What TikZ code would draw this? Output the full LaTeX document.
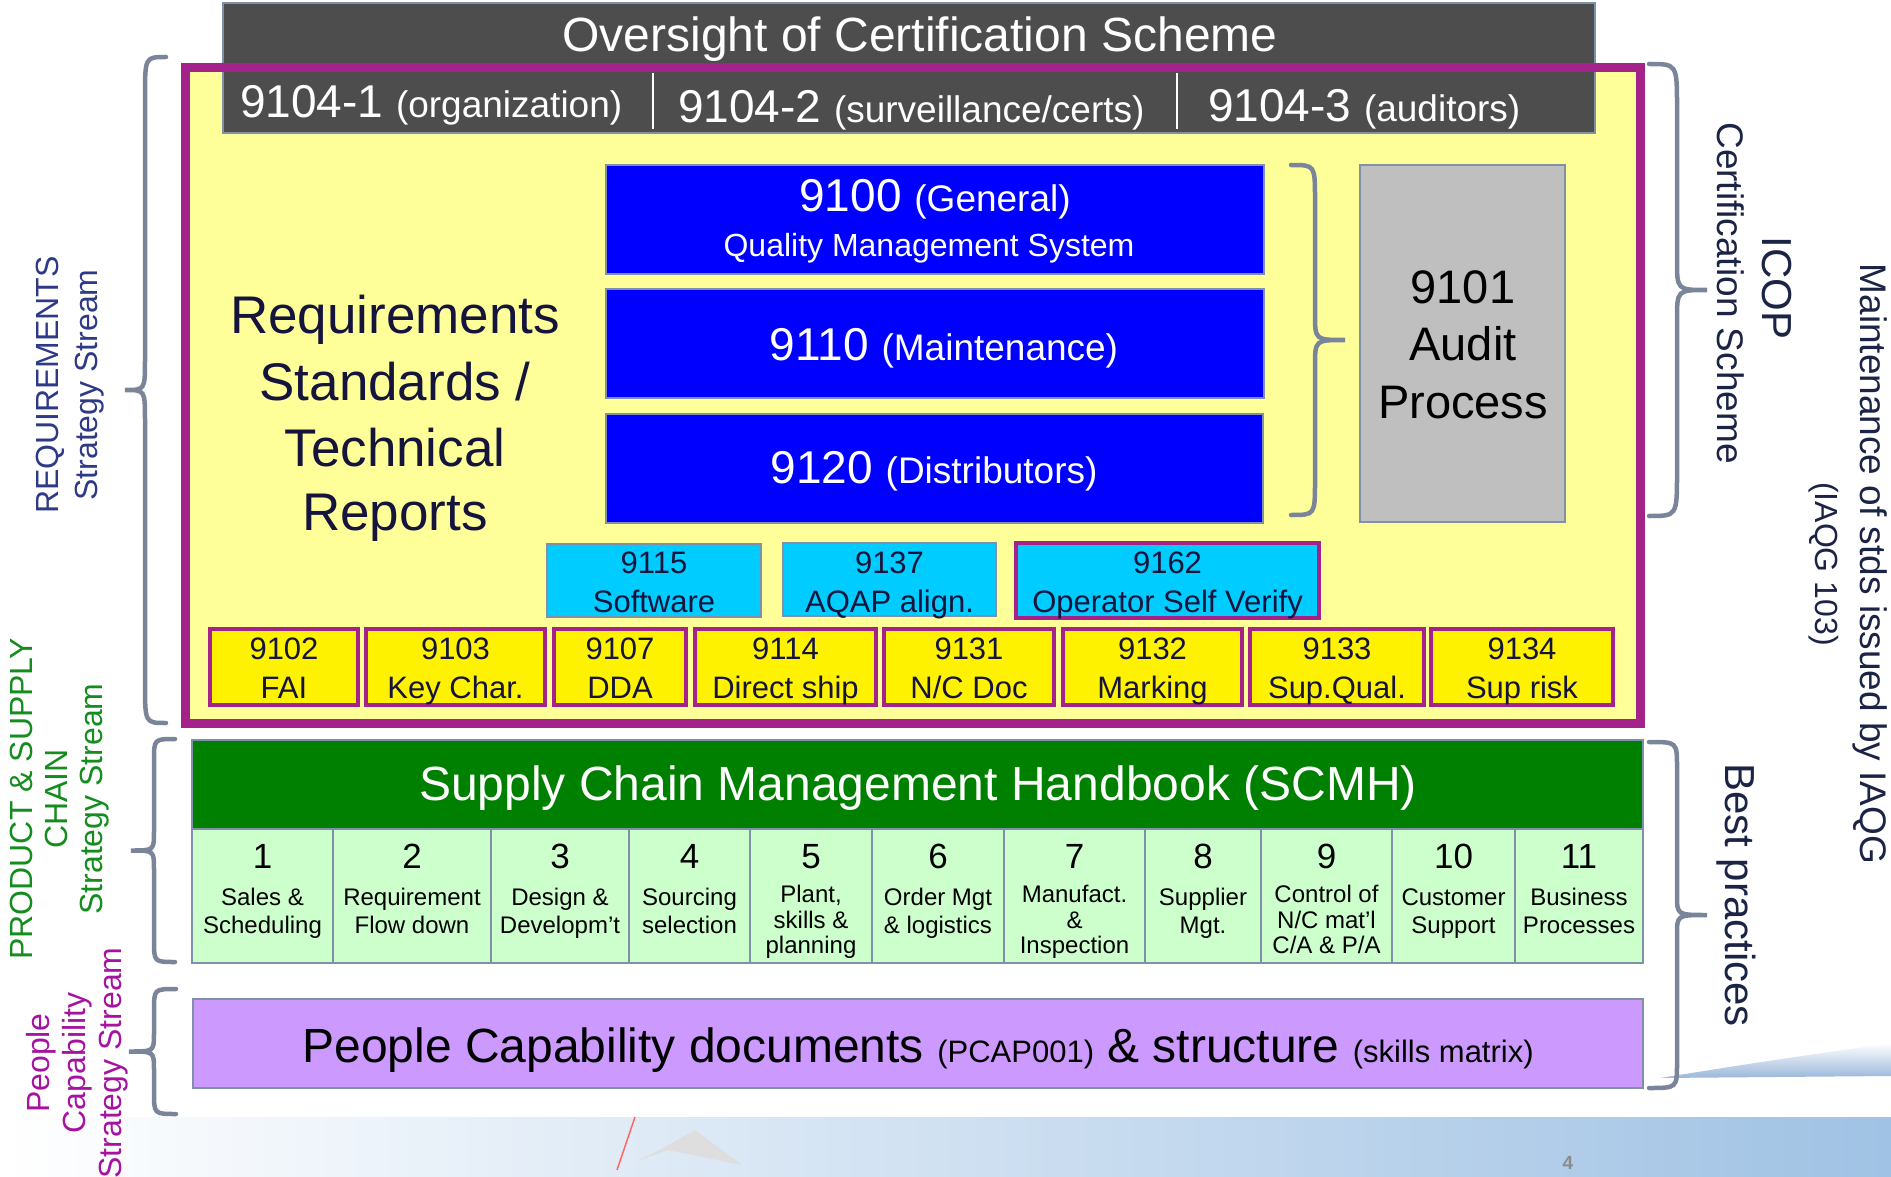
\documentclass[tikz,border=0pt]{standalone}
\usepackage{fontspec}
\setmainfont{Liberation Sans}
\definecolor{purp}{RGB}{163,35,139}
\definecolor{lyell}{RGB}{255,255,153}
\definecolor{dhead}{RGB}{77,77,77}
\definecolor{bgray}{RGB}{128,144,168}
\definecolor{navy}{RGB}{20,20,60}
\definecolor{brc}{RGB}{122,133,153}
\definecolor{reqc}{RGB}{46,58,135}
\definecolor{grnc}{RGB}{20,140,30}
\definecolor{magc}{RGB}{165,20,160}
\definecolor{rtxt}{RGB}{28,36,70}
\definecolor{cyanb}{RGB}{0,204,255}
\definecolor{scmg}{RGB}{0,128,0}
\definecolor{lgrn}{RGB}{204,255,204}
\definecolor{lav}{RGB}{204,153,255}
\definecolor{bandblue}{RGB}{160,194,228}
\definecolor{bandmid}{RGB}{226,234,245}
\definecolor{swoosh}{RGB}{130,165,210}
\newcommand\fsz[1]{\fontsize{#1}{#1}\selectfont}
% box node from corners: name, style, x1, y1, x2, y2
\newcommand\bx[6]{%
 \pgfmathsetmacro\bxW{#5-#3}\pgfmathsetmacro\bxH{#6-#4}%
 \pgfmathsetmacro\bxX{(#3+#5)/2}\pgfmathsetmacro\bxY{(#4+#6)/2}%
 \node[#2, minimum width=\bxW pt, minimum height=\bxH pt, inner sep=0pt, outer sep=0pt] (#1) at (\bxX,\bxY) {};}
% brace: xtip, xspine, xend, ytop, ybot, rend, rtip
\newcommand\mybrace[7]{%
 \pgfmathsetmacro\brM{(#4+#5)/2}%
 \draw[brace] (#3,#4) .. controls (#2,#4) .. (#2,#4+#6) -- (#2,\brM-#7) .. controls (#2,\brM) .. (#1,\brM)
   .. controls (#2,\brM) .. (#2,\brM+#7) -- (#2,#5-#6) .. controls (#2,#5) .. (#3,#5);}
% yellow box: name x1 x2 num label
\newcommand\ybox[5]{%
 \bx{#1}{ybx}{#2}{629}{#3}{705}%
 \node[txt,font=\fsz{31},text=navy] (#1n) at (\bxX,659) {#4};
 \node[txt,font=\fsz{31},text=navy] (#1l) at (\bxX,698) {#5};}
% cyan box: name style x1 y1 x2 y2 num label
\newcommand\cbox[8]{%
 \bx{#1}{#2}{#3}{#4}{#5}{#6}%
 \node[txt,font=\fsz{31},text=navy] (#1n) at (\bxX,573) {#7};
 \node[txt,font=\fsz{31},text=navy] (#1l) at (\bxX,612) {#8};}
% SCMH cell, two lines: name x1 x2 num l1 l2
\newcommand\cellB[6]{%
 \bx{#1}{cellbx}{#2}{829}{#3}{963}%
 \node[txt,font=\fsz{35}] (#1n) at (\bxX,868) {#4};
 \node[txt,font=\fsz{24}] (#1a) at (\bxX,905) {#5};
 \node[txt,font=\fsz{24}] (#1b) at (\bxX,933) {#6};}
% SCMH cell, three lines
\newcommand\cellC[7]{%
 \bx{#1}{cellbx}{#2}{829}{#3}{963}%
 \node[txt,font=\fsz{35}] (#1n) at (\bxX,868) {#4};
 \node[txt,font=\fsz{24}] (#1a) at (\bxX,902) {#5};
 \node[txt,font=\fsz{24}] (#1b) at (\bxX,928) {#6};
 \node[txt,font=\fsz{24}] (#1c) at (\bxX,953) {#7};}
\begin{document}
\begin{tikzpicture}[x=1pt,y=-1pt,
  txt/.style={anchor=base, inner sep=0pt, outer sep=0pt},
  brace/.style={draw=brc, line width=4.5pt, line cap=round, fill=none},
  bluebx/.style={fill=blue, draw=bgray, line width=2pt},
  graybx/.style={fill=black!25, draw=bgray, line width=2pt},
  cyanbx/.style={fill=cyanb, draw=bgray, line width=2pt},
  cyanpbx/.style={fill=cyanb, draw=purp, line width=4.5pt},
  ybx/.style={fill=yellow, draw=purp, line width=4pt},
  cellbx/.style={fill=lgrn, draw=bgray, line width=2pt},
  rlab/.style={rotate=-90, inner sep=0pt, text=rtxt}]
\useasboundingbox (0,0) rectangle (1891,1177);
% background decorations
\shade[left color=white, middle color=bandmid, right color=bandblue] (0,1117) rectangle (1891,1177);
\shade[top color=white, bottom color=swoosh, opacity=0.8] (1660,1078) .. controls (1760,1062) .. (1891,1043) -- (1891,1076) -- cycle;
\fill[black!13] (637,1161) -- (663,1148) -- (695,1130) -- (742,1165) -- (668,1150) -- cycle;
\coordinate (rl1) at (635,1117); \coordinate (rl2) at (617,1170);
\draw[red!60!white, line width=1.5pt] (rl1) -- (rl2);
\node[font=\bfseries\fsz{19}, text=black!45] (pnum) at (1568,1163) {4};

% requirements frame fill
\bx{frame}{fill=lyell}{185}{67.5}{1640}{723.5}
% oversight header
\bx{hdr}{fill=dhead, draw=bgray, line width=1.5pt}{223}{3}{1595}{133}
\node[txt, font=\fsz{48}, text=white] (hdrt) at (920,52) {Oversight of Certification Scheme};
\coordinate (d1t) at (653,73); \coordinate (d1b) at (653,129);
\coordinate (d2t) at (1177,73); \coordinate (d2b) at (1177,129);
\draw[white, line width=2pt] (d1t) -- (d1b);
\draw[white, line width=2pt] (d2t) -- (d2b);
\node[txt, anchor=base west, font=\fsz{46}, text=white] (h1) at (240,118) {9104-1 {\fsz{37}(organization)}};
\node[txt, anchor=base west, font=\fsz{46}, text=white] (h2) at (678,123) {9104-2 {\fsz{37}(surveillance/certs)}};
\node[txt, anchor=base west, font=\fsz{46}, text=white] (h3) at (1208,122) {9104-3 {\fsz{37}(auditors)}};
% frame border
\draw[purp, line width=9pt] (frame.north west) rectangle (frame.south east);

% requirements text
\node[txt, font=\fsz{53}, text=navy] (rq1) at (395,333) {Requirements};
\node[txt, font=\fsz{53}, text=navy] (rq2) at (395,400) {Standards /};
\node[txt, font=\fsz{53}, text=navy] (rq3) at (395,466) {Technical};
\node[txt, font=\fsz{53}, text=navy] (rq4) at (395,530) {Reports};

% blue boxes
\bx{b9100}{bluebx}{606}{165}{1264}{274}
\node[txt, font=\fsz{46}, text=white] (t9100) at (935,212) {9100 {\fsz{37}(General)}};
\node[txt, font=\fsz{32}, text=white] (t9100q) at (929,257) {Quality Management System};
\bx{b9110}{bluebx}{606}{289}{1264}{398}
\node[txt, font=\fsz{46}, text=white] (t9110) at (944,360) {9110 {\fsz{37}(Maintenance)}};
\bx{b9120}{bluebx}{606}{414}{1263}{523}
\node[txt, font=\fsz{46}, text=white] (t9120) at (934,483) {9120 {\fsz{37}(Distributors)}};

% brace to audit box
\mybrace{1345}{1315}{1291}{165}{515}{34}{26}
% 9101 audit box
\bx{b9101}{graybx}{1360}{165}{1565}{522}
\node[txt, font=\fsz{47}] (a1) at (1463,303) {9101};
\node[txt, font=\fsz{47}] (a2) at (1463,360) {Audit};
\node[txt, font=\fsz{47}] (a3) at (1463,418) {Process};

% cyan boxes
\cbox{b9115}{cyanbx}{547}{544}{761}{617}{9115}{Software}
\cbox{b9137}{cyanbx}{783}{543}{996}{616}{9137}{AQAP align.}
\cbox{b9162}{cyanpbx}{1016}{543}{1319}{618}{9162}{Operator Self Verify}

% yellow boxes
\ybox{b9102}{210}{358}{9102}{FAI}
\ybox{b9103}{366}{545}{9103}{Key Char.}
\ybox{b9107}{554}{686}{9107}{DDA}
\ybox{b9114}{695}{876}{9114}{Direct ship}
\ybox{b9131}{884}{1054}{9131}{N/C Doc}
\ybox{b9132}{1063}{1242}{9132}{Marking}
\ybox{b9133}{1250}{1424}{9133}{Sup.Qual.}
\ybox{b9134}{1431}{1613}{9134}{Sup risk}

% SCMH
\bx{scmh}{fill=scmg, draw=bgray, line width=2pt}{192}{740}{1643}{829}
\node[txt, font=\fsz{48}, text=white] (scmht) at (918,800) {Supply Chain Management Handbook (SCMH)};
\cellB{c1}{192}{333}{1}{Sales \&}{Scheduling}
\cellB{c2}{333}{491}{2}{Requirement}{Flow down}
\cellB{c3}{491}{629}{3}{Design \&}{Developm’t}
\cellB{c4}{629}{750}{4}{Sourcing}{selection}
\cellC{c5}{750}{872}{5}{Plant,}{skills \&}{planning}
\cellB{c6}{872}{1004}{6}{Order Mgt}{\& logistics}
\cellC{c7}{1004}{1145}{7}{Manufact.}{\&}{Inspection}
\cellB{c8}{1145}{1261}{8}{Supplier}{Mgt.}
\cellC{c9}{1261}{1392}{9}{Control of}{N/C mat’l}{C/A \& P/A}
\cellB{c10}{1392}{1515}{10}{Customer}{Support}
\cellB{c11}{1515}{1643}{11}{Business}{Processes}

% people capability
\bx{pcap}{fill=lav, draw=bgray, line width=2pt}{193}{999}{1643}{1088}
\node[txt, font=\fsz{48}] (pcapt) at (918,1062) {People Capability documents {\fsz{31}(PCAP001)} \& structure {\fsz{31}(skills matrix)}};

% left braces and labels
\mybrace{125}{145}{166}{57}{723}{40}{30}
\mybrace{131}{154}{175}{739}{962}{22}{19}
\mybrace{129}{154}{176}{989}{1114}{22}{18}
\node[rotate=90, align=center, inner sep=0pt, font=\fontsize{32}{39}\selectfont, text=reqc] (lreq) at (70,385) {REQUIREMENTS\\Strategy Stream};
\node[rotate=90, align=center, inner sep=0pt, font=\fontsize{32}{35}\selectfont, text=grnc] (lprod) at (60,799) {PRODUCT \& SUPPLY\\CHAIN\\Strategy Stream};
\node[rotate=90, align=center, inner sep=0pt, font=\fontsize{32}{36}\selectfont, text=magc] (lpeop) at (77,1063) {People\\Capability\\Strategy Stream};

% right braces and labels
\mybrace{1707}{1677}{1649}{64}{516}{43}{30}
\mybrace{1707}{1677}{1649}{742}{1088}{25}{20}
\node[rlab, font=\fsz{42}] (ricop) at (1777,288) {ICOP};
\node[rlab, font=\fsz{37}] (rcert) at (1731,293) {Certification Scheme};
\node[rlab, font=\fsz{37}] (rmaint) at (1870,564) {Maintenance of stds issued by IAQG};
\node[rlab, font=\fsz{32}] (riaqg) at (1824,564) {(IAQG 103)};
\node[rlab, font=\fsz{42}] (rbest) at (1736,895) {Best practices};
\end{tikzpicture}
\end{document}
